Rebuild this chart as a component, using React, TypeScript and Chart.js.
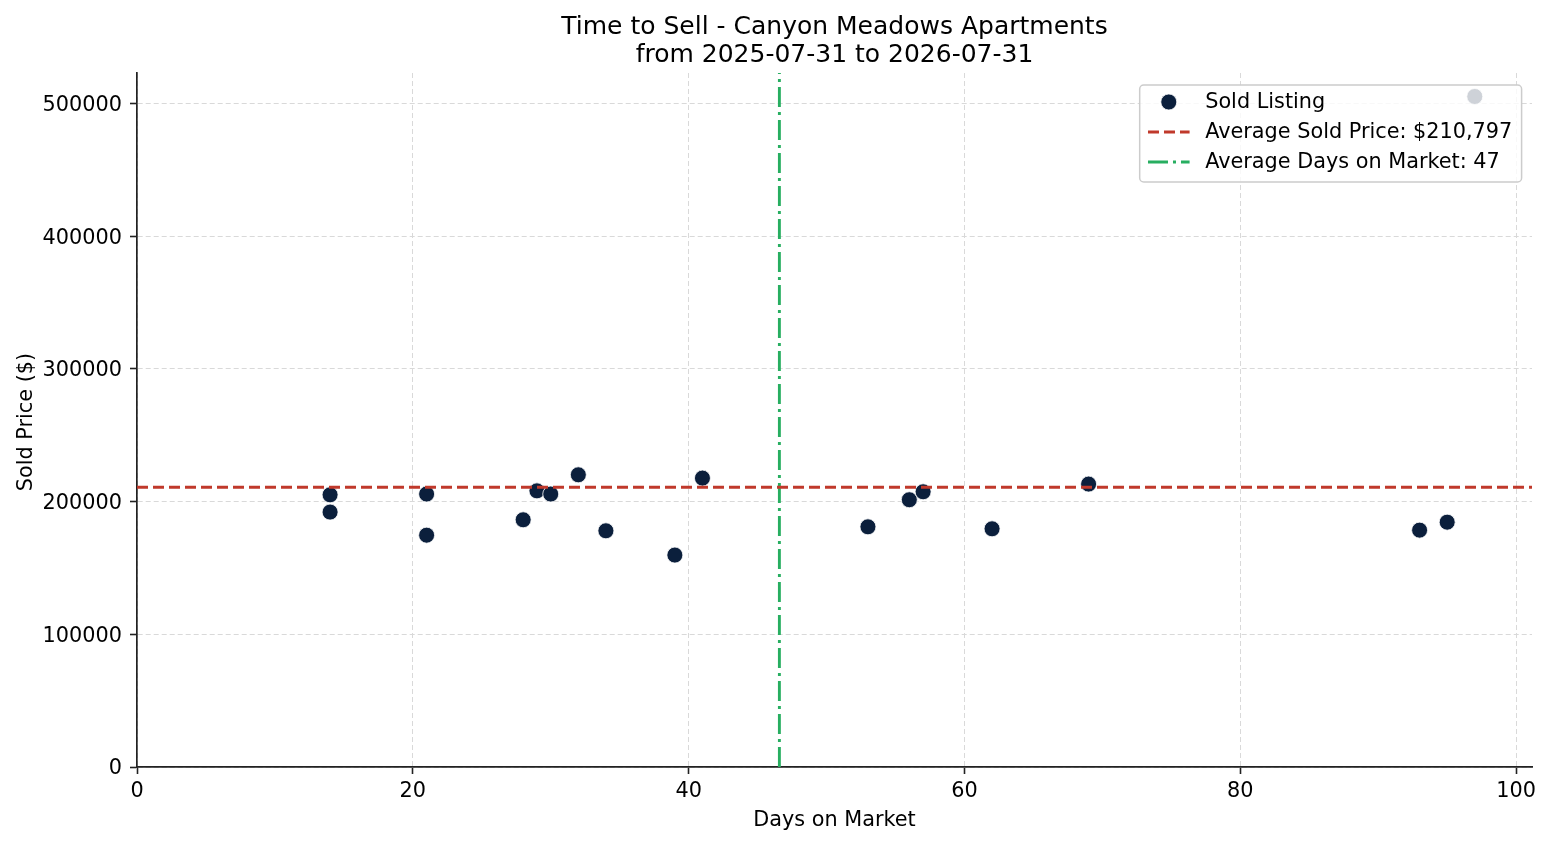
import { useEffect, useRef } from "react";
import { Chart, registerables } from "chart.js";

Chart.register(...registerables);

// ---- data ----
const DAYS_ON_MARKET = [14, 14, 21, 21, 28, 29, 30, 32, 34, 39, 41, 53, 56, 57, 62, 69, 93, 95, 97];
const SOLD_PRICES = [
  205100, 192100, 205700, 174700, 186300, 208100, 205700, 220200, 178000, 159700,
  217700, 181000, 201400, 207400, 179500, 213200, 178500, 184500, 505300,
];
const AVG_SOLD_PRICE = 210797;
const X_TICKS = [0, 20, 40, 60, 80, 100];
const Y_TICKS = [0, 100000, 200000, 300000, 400000, 500000];
const X_MIN = 0;
const X_MAX = 101.15;
const Y_MIN = 0;
const Y_MAX = 523000;

const TITLE_LINES = ["Time to Sell - Canyon Meadows Apartments", "from 2025-07-31 to 2026-07-31"];
const X_LABEL = "Days on Market";
const Y_LABEL = "Sold Price ($)";
const LEGEND_LABELS = [
  "Sold Listing",
  "Average Sold Price: $" + AVG_SOLD_PRICE.toLocaleString("en-US"),
  "Average Days on Market: " + Math.round(DAYS_ON_MARKET.reduce((a, b) => a + b, 0) / DAYS_ON_MARKET.length),
];

const NAVY = "#0b1f3c";
const RED = "#c0392b";
const GREEN = "#27ae60";
const FONT = '"DejaVu Sans", "Liberation Sans", sans-serif';
const RED_DASH = [11, 5];
const GREEN_DASH = [20, 5, 3, 5];

export default function App() {
  const ref = useRef<HTMLCanvasElement | null>(null);

  useEffect(() => {
    document.body.style.margin = "0";
    const canvas = ref.current;
    if (!canvas) return;
    const avgDays = DAYS_ON_MARKET.reduce((a, b) => a + b, 0) / DAYS_ON_MARKET.length;

    const overlay = {
      id: "overlay",
      afterDraw(chart: any) {
        const { ctx, chartArea } = chart;
        const cx = (chartArea.left + chartArea.right) / 2;
        ctx.save();
        // title
        ctx.fillStyle = "#000";
        ctx.font = `25px ${FONT}`;
        ctx.textAlign = "center";
        ctx.textBaseline = "alphabetic";
        ctx.fillText(TITLE_LINES[0], cx, chartArea.top - 39);
        ctx.fillText(TITLE_LINES[1], cx, chartArea.top - 11);
        // axis labels
        ctx.font = `20.8px ${FONT}`;
        ctx.fillText(X_LABEL, cx, chartArea.bottom + 59);
        ctx.save();
        ctx.translate(32, (chartArea.top + chartArea.bottom) / 2 + 2);
        ctx.rotate(-Math.PI / 2);
        ctx.fillText(Y_LABEL, 0, 0);
        ctx.restore();

        // legend
        ctx.font = `20.8px ${FONT}`;
        const maxW = Math.max(...LEGEND_LABELS.map((t) => ctx.measureText(t).width));
        const pad = 8.3;
        const handleLen = 41.6;
        const textPad = 16.6;
        const right = chartArea.right - 10.4;
        const left = right - (pad + handleLen + textPad + maxW + pad);
        const top = chartArea.top + 12;
        const bottom = top + 97;
        const r = 4;
        ctx.beginPath();
        ctx.moveTo(left + r, top);
        ctx.lineTo(right - r, top);
        ctx.arcTo(right, top, right, top + r, r);
        ctx.lineTo(right, bottom - r);
        ctx.arcTo(right, bottom, right - r, bottom, r);
        ctx.lineTo(left + r, bottom);
        ctx.arcTo(left, bottom, left, bottom - r, r);
        ctx.lineTo(left, top + r);
        ctx.arcTo(left, top, left + r, top, r);
        ctx.closePath();
        ctx.fillStyle = "rgba(255,255,255,0.8)";
        ctx.fill();
        ctx.strokeStyle = "#cccccc";
        ctx.lineWidth = 1.5;
        ctx.stroke();

        const rows = [top + 17, top + 47, top + 77];
        const hx0 = left + pad;
        const hx1 = hx0 + handleLen;
        // marker
        ctx.beginPath();
        ctx.arc((hx0 + hx1) / 2, rows[0], 8, 0, Math.PI * 2);
        ctx.fillStyle = NAVY;
        ctx.fill();
        ctx.strokeStyle = "#fff";
        ctx.lineWidth = 0.8;
        ctx.stroke();
        // red dashed
        ctx.lineWidth = 2.9;
        ctx.strokeStyle = RED;
        ctx.setLineDash(RED_DASH);
        ctx.beginPath();
        ctx.moveTo(hx0, rows[1]);
        ctx.lineTo(hx1, rows[1]);
        ctx.stroke();
        // green dashdot
        ctx.strokeStyle = GREEN;
        ctx.setLineDash(GREEN_DASH);
        ctx.beginPath();
        ctx.moveTo(hx0, rows[2]);
        ctx.lineTo(hx1, rows[2]);
        ctx.stroke();
        ctx.setLineDash([]);
        // texts
        ctx.fillStyle = "#000";
        ctx.textAlign = "left";
        ctx.textBaseline = "middle";
        LEGEND_LABELS.forEach((t, i) => ctx.fillText(t, hx1 + textPad - 1, rows[i] + 1));
        ctx.restore();
      },
    };

    const tickFont = { family: FONT, size: 20.8 };
    const chart = new Chart(canvas, {
      type: "scatter",
      data: {
        datasets: [
          {
            label: "Sold Listing",
            data: DAYS_ON_MARKET.map((d, i) => ({ x: d, y: SOLD_PRICES[i] })),
            pointRadius: 8,
            pointHoverRadius: 8,
            backgroundColor: NAVY,
            borderColor: "#ffffff",
            borderWidth: 0.8,
            order: 3,
          },
          {
            label: "avgPrice",
            data: [
              { x: X_MIN, y: AVG_SOLD_PRICE },
              { x: X_MAX, y: AVG_SOLD_PRICE },
            ],
            showLine: true,
            pointRadius: 0,
            borderColor: RED,
            borderWidth: 2.9,
            borderDash: RED_DASH,
            order: 1,
          },
          {
            label: "avgDays",
            data: [
              { x: avgDays, y: Y_MIN },
              { x: avgDays, y: Y_MAX },
            ],
            showLine: true,
            pointRadius: 0,
            borderColor: GREEN,
            borderWidth: 2.9,
            borderDash: GREEN_DASH,
            order: 2,
          },
        ],
      },
      options: {
        responsive: false,
        animation: false,
        devicePixelRatio: 1,
        layout: { padding: { top: 73, right: 19, bottom: 0, left: 0 } },
        plugins: {
          legend: { display: false },
          tooltip: { enabled: false },
          title: { display: false },
        },
        scales: {
          x: {
            type: "linear",
            min: X_MIN,
            max: X_MAX,
            afterFit: (s: any) => {
              s.height = 78;
            },
            afterBuildTicks: (s: any) => {
              s.ticks = X_TICKS.map((v) => ({ value: v }));
            },
            ticks: {
              font: tickFont,
              color: "#000",
              padding: 5,
              maxRotation: 0,
              callback: (v: any) => String(v),
            },
            grid: {
              color: "#d9d9d9",
              lineWidth: 1,
              drawTicks: true,
              tickLength: 7,
              tickColor: "#222",
              tickWidth: 1.6,
            },
            border: { display: true, color: "#222", width: 1.7, dash: [5, 3] },
          },
          y: {
            type: "linear",
            min: Y_MIN,
            max: Y_MAX,
            afterFit: (s: any) => {
              s.width = 137;
            },
            afterBuildTicks: (s: any) => {
              s.ticks = Y_TICKS.map((v) => ({ value: v }));
            },
            ticks: {
              font: tickFont,
              color: "#000",
              padding: 8,
              labelOffset: 2,
              callback: (v: any) => String(v),
            },
            grid: {
              color: "#d9d9d9",
              lineWidth: 1,
              drawTicks: true,
              tickLength: 7,
              tickColor: "#222",
              tickWidth: 1.6,
            },
            border: { display: true, color: "#222", width: 1.7, dash: [5, 3] },
          },
        },
      },
      plugins: [overlay],
    } as any);

    return () => chart.destroy();
  }, []);

  return (
    <div style={{ width: 1551, height: 845, background: "#fff" }}>
      <canvas ref={ref} width={1551} height={845} style={{ display: "block" }} />
    </div>
  );
}
